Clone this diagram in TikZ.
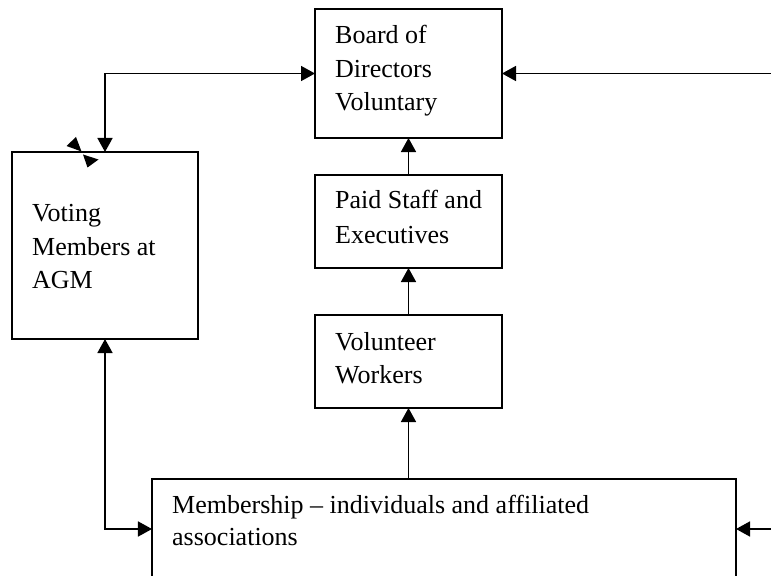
\documentclass[tikz,border=0pt]{standalone}
\usepackage{fontspec}
\setmainfont{Liberation Serif}
\usetikzlibrary{arrows.meta}
\begin{document}
\begin{tikzpicture}[x=1bp,y=-1bp,
  box/.style={draw,line width=2bp,inner sep=0pt,outer sep=0pt,rectangle},
  lbl/.style={anchor=base west,inner sep=0pt,font=\fontsize{26bp}{33bp}\selectfont},
  conn/.style={line width=1.6bp},
  tip/.style={-{Triangle[length=14bp,width=15bp]}},
  tips/.style={{Triangle[length=14bp,width=15bp]}-{Triangle[length=14bp,width=15bp]}}]
\useasboundingbox (0,0) rectangle (771,576);
\clip (0,0) rectangle (771,576);
% boxes
\node[box,minimum width=187bp,minimum height=129bp] (board) at (408.5,73.5) {};
\node[box,minimum width=187bp,minimum height=93bp] (paid) at (408.5,221.5) {};
\node[box,minimum width=187bp,minimum height=93bp] (vol) at (408.5,361.5) {};
\node[box,minimum width=186bp,minimum height=187bp] (voting) at (105,245.5) {};
\node[box,minimum width=584bp,minimum height=100bp] (mem) at (444,529) {};
% labels
\node[lbl] (b1) at (335,44) {Board of};
\node[lbl] (b2) at (335,77.5) {Directors};
\node[lbl] (b3) at (335,111) {Voluntary};
\node[lbl] (p1) at (335,209) {Paid Staff and};
\node[lbl] (p2) at (335,243) {Executives};
\node[lbl] (v1) at (335,350) {Volunteer};
\node[lbl] (v2) at (335,383) {Workers};
\node[lbl] (g1) at (32,222) {Voting};
\node[lbl] (g2) at (32,255) {Members at};
\node[lbl] (g3) at (32,288) {AGM};
\node[lbl] (m1) at (172,513) {Membership -- individuals and affiliated};
\node[lbl] (m2) at (172,545) {associations};
% free ends
\coordinate (rt) at (771,73.5);
\coordinate (rb) at (771,529);
% connectors
\draw[conn,tip] (paid.north) -- (board.south);
\draw[conn,tip] (vol.north) -- (paid.south);
\draw[conn,tip] (vol.south |- mem.north) -- (vol.south);
\draw[conn,tips] (voting.north) |- (board.west);
\draw[conn,tip] (rt) -- (board.east);
\draw[conn,tips] (voting.south) |- (mem.west);
\draw[conn,tip] (rb) -- (mem.east);
% stray arrowheads on Voting box top edge
\fill (66.5,146) -- (76,137) -- (81.5,151.5) -- cycle;
\fill (83,154.5) -- (98.5,159.5) -- (87.5,167.5) -- cycle;
\end{tikzpicture}
\end{document}
